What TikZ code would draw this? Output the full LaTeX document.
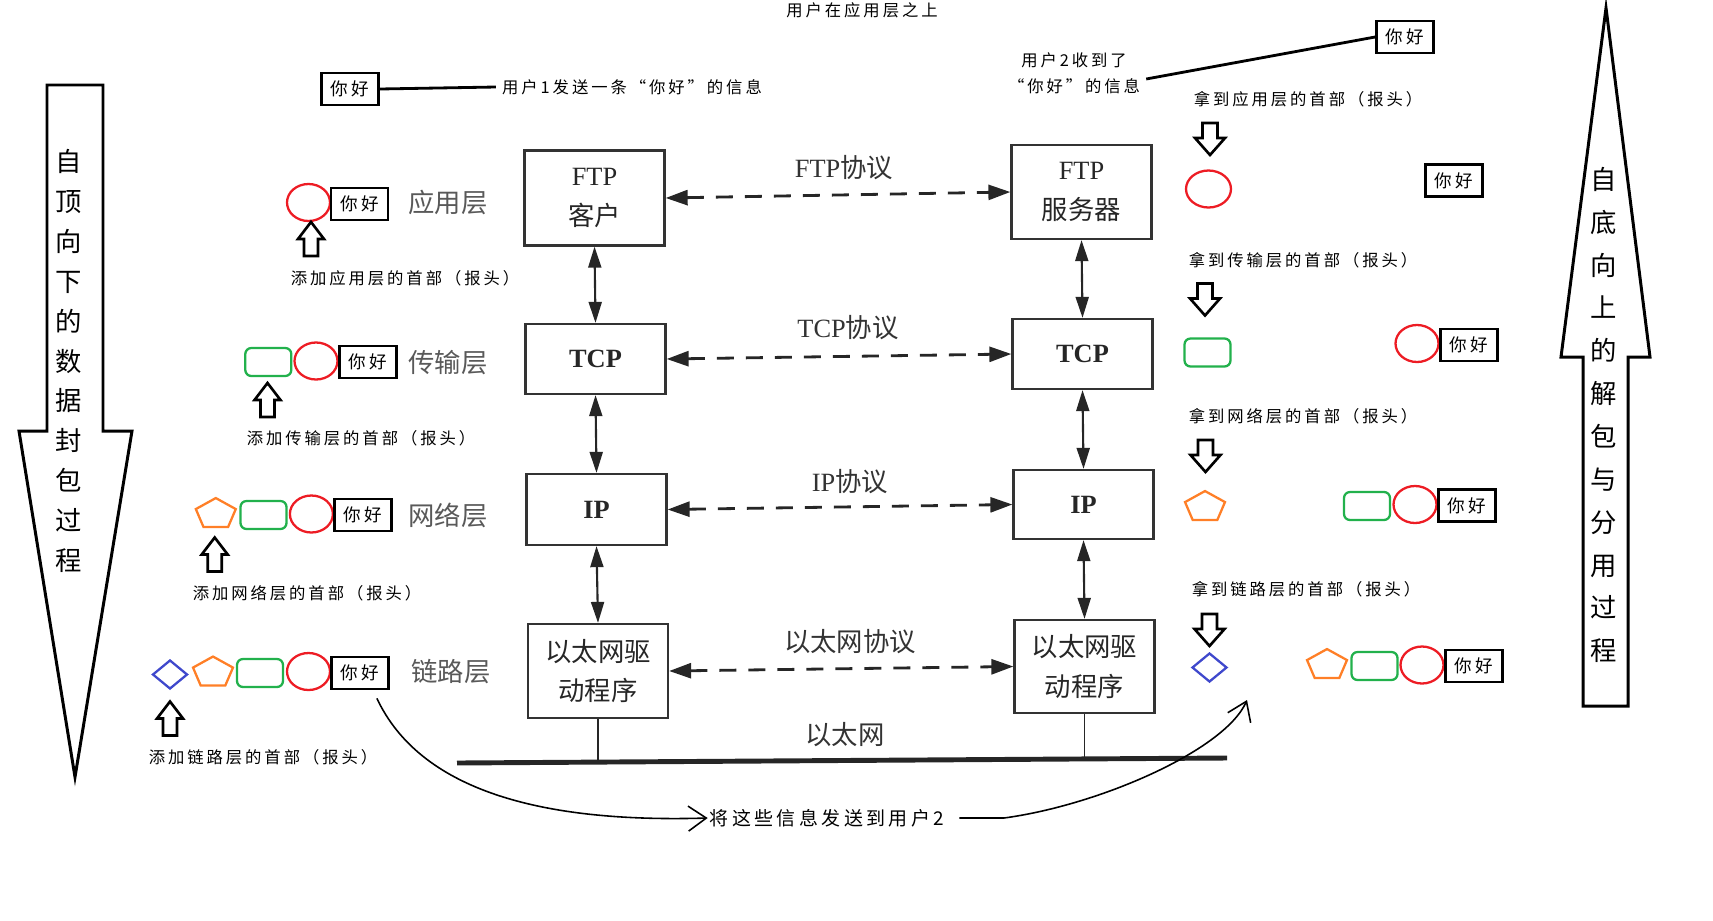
\documentclass[tikz,border=0pt]{standalone}
\usepackage{fontspec}
\setmainfont{Liberation Serif}
\newfontfamily\cjk{Noto Sans CJK SC}
\newfontfamily\cjkw{Noto Sans CJK SC}[LetterSpace=18]
\usetikzlibrary{arrows.meta, shapes.geometric}
\definecolor{hdrred}{RGB}{237,28,36}
\definecolor{hdrgreen}{RGB}{34,177,76}
\definecolor{hdrorange}{RGB}{255,127,39}
\definecolor{hdrblue}{RGB}{63,72,204}

\begin{document}
\begin{tikzpicture}[
  x=0.02cm, y=-0.02cm,
  proto/.style={draw=black!80, line width=1.3pt, minimum width=2.8cm, align=center,
                text=black!85, font=\fontsize{15}{22.7}\selectfont},
  peer/.style={{Triangle[length=0.44cm,width=0.3cm]}-{Triangle[length=0.44cm,width=0.3cm]},
               line width=1.6pt, dash pattern=on 0.34cm off 0.24cm, draw=black!85},
  vlink/.style={{Triangle[length=0.42cm,width=0.26cm]}-{Triangle[length=0.42cm,width=0.26cm]},
                line width=1.2pt, draw=black!85},
  protolbl/.style={font=\fontsize{15}{18}\selectfont, text=black!80},
  layerlbl/.style={font=\cjk\fontsize{15}{18}\selectfont, text=black!65},
  note/.style={font=\cjkw\fontsize{9.3}{12}\selectfont},
  msgbox/.style={draw, line width=1.6pt, minimum width=1.14cm, minimum height=0.64cm,
                 inner sep=0pt, font=\cjkw\fontsize{10}{12}\selectfont},
  hdrapp/.style={ellipse, draw=hdrred, line width=1.3pt, minimum width=0.86cm,
                 minimum height=0.74cm, inner sep=0pt},
  hdrtrans/.style={rectangle, rounded corners=0.12cm, draw=hdrgreen, line width=1.3pt,
                   minimum width=0.92cm, minimum height=0.56cm, inner sep=0pt},
  hdrnet/.style={regular polygon, regular polygon sides=5, draw=hdrorange, line width=1.3pt,
                 minimum size=0.84cm, inner sep=0pt, yscale=0.76, transform shape},
  hdrlink/.style={diamond, draw=hdrblue, line width=1.3pt, minimum width=0.7cm,
                  minimum height=0.58cm, inner sep=0pt},
  bigarrow/.style={draw, line width=1.7pt},
  bigtext/.style={font=\cjk\fontsize{15}{22.7}\selectfont, align=center},
  sendarrow/.style={-{Straight Barb[length=0.36cm,width=0.5cm]}, line width=0.9pt},
  thickline/.style={line width=1.6pt},
  addhdr/.pic={\draw[line width=1.5pt] (-7,17) -- (-7,0) -- (-13,0) -- (0,-17)
               -- (13,0) -- (7,0) -- (7,17) -- cycle;},
  takehdr/.pic={\draw[line width=1.5pt] (-7.5,-16) -- (-7.5,-1) -- (-15,-1) -- (0,16)
                -- (15,-1) -- (7.5,-1) -- (7.5,-16) -- cycle;}
]
  \useasboundingbox (0,0) rectangle (1713,920);

  % Big arrows at both sides
  \draw[bigarrow] (47,85) -- (103,85) -- (103,431) -- (132,431) -- (75,777)
    -- (19,431) -- (47,431) -- cycle;
  \node[bigtext] (lefttext) at (69,361) {自\\顶\\向\\下\\的\\数\\据\\封\\包\\过\\程};
  \draw[bigarrow] (1606,8) -- (1650,357) -- (1628,357) -- (1628,706) -- (1583,706)
    -- (1583,357) -- (1561,357) -- cycle;
  \node[bigtext, font=\cjk\fontsize{15}{24.4}\selectfont] (righttext) at (1604,415)
    {自\\底\\向\\上\\的\\解\\包\\与\\分\\用\\过\\程};

  % Protocol stack, client side
  \node[proto, minimum height=1.9cm] (ftpc) at (594.5,198) {FTP\\{\cjk 客户}};
  \node[proto, minimum height=1.4cm] (tcpc) at (595.5,359) {\bfseries TCP};
  \node[proto, minimum height=1.42cm] (ipc) at (596.5,509.5) {\bfseries IP};
  \node[proto, minimum height=1.88cm, font=\cjk\fontsize{15}{22.7}\selectfont] (ethc)
    at (598,671) {以太网驱\\动程序};

  % Protocol stack, server side
  \node[proto, minimum height=1.88cm] (ftps) at (1081.5,192) {FTP\\{\cjk 服务器}};
  \node[proto, minimum height=1.4cm] (tcps) at (1082.5,354) {\bfseries TCP};
  \node[proto, minimum height=1.38cm] (ips) at (1083.5,504.5) {\bfseries IP};
  \node[proto, minimum height=1.86cm, font=\cjk\fontsize{15}{22.7}\selectfont] (eths)
    at (1084.5,666.5) {以太网驱\\动程序};

  \draw[vlink] (ftpc.south) -- (tcpc.north);
  \draw[vlink] (tcpc.south) -- (ipc.north);
  \draw[vlink] (ipc.south) -- (ethc.north);
  \draw[vlink] (ftps.south) -- (tcps.north);
  \draw[vlink] (tcps.south) -- (ips.north);
  \draw[vlink] (ips.south) -- (eths.north);

  \draw[peer] (ftpc.east) -- (ftps.west);
  \draw[peer] (tcpc.east) -- (tcps.west);
  \draw[peer] (ipc.east) -- (ips.west);
  \draw[peer] (ethc.east) -- (eths.west);

  \node[protolbl] (ftpproto) at (844,168) {FTP{\cjk 协议}};
  \node[protolbl] (tcpproto) at (848,328) {TCP{\cjk 协议}};
  \node[protolbl] (ipproto) at (850,482) {IP{\cjk 协议}};
  \node[protolbl, font=\cjk\fontsize{15}{18}\selectfont] (ethproto) at (850,642) {以太网协议};

  % Ethernet bus
  \coordinate (busL) at (457,763);
  \coordinate (busR) at (1227,758);
  \draw[line width=2.8pt, black!85] (busL) -- (busR);
  \draw[line width=0.8pt, black!85] (ethc.south) -- (ethc.south |- busL);
  \draw[line width=0.8pt, black!85] (eths.south) -- (eths.south |- busR);
  \node[protolbl, font=\cjk\fontsize{15}{18}\selectfont] (ethlbl) at (845,735) {以太网};

  % Layer names
  \node[layerlbl] (applbl) at (448,202) {应用层};
  \node[layerlbl] (translbl) at (448,363) {传输层};
  \node[layerlbl] (netlbl) at (448,515) {网络层};
  \node[layerlbl] (linklbl) at (451,672) {链路层};

  % Sender: top
  \node[note] (title) at (862,10) {用户在应用层之上};
  \node[msgbox] (topmsg) at (350,89) {你好};
  \node[note] (sendnote) at (632,87) {用户1发送一条“你好”的信息};
  \draw[thickline] (topmsg.east) -- (sendnote.west);

  % Sender: encapsulation
  \node[hdrapp] (a1circ) at (308.5,202.5) {};
  \node[msgbox] (a1msg) at (359.5,204) {你好};
  \pic at (311,239) {addhdr};
  \node[note] (a1note) at (405,278) {添加应用层的首部（报头）};

  \node[hdrtrans] (t2rect) at (268.3,362) {};
  \node[hdrapp] (t2circ) at (316,361) {};
  \node[msgbox] (t2msg) at (368,362) {你好};
  \pic at (267.5,400) {addhdr};
  \node[note] (t2note) at (361,438) {添加传输层的首部（报头）};

  \node[hdrnet] (n3pent) at (215.8,514) {};
  \node[hdrtrans] (n3rect) at (263.5,515) {};
  \node[hdrapp] (n3circ) at (311.4,514) {};
  \node[msgbox] (n3msg) at (363,515) {你好};
  \pic at (214.7,554.5) {addhdr};
  \node[note] (n3note) at (307,593) {添加网络层的首部（报头）};

  \node[hdrlink] (k4dia) at (170,674.5) {};
  \node[hdrnet] (k4pent) at (213,672.5) {};
  \node[hdrtrans] (k4rect) at (260,673) {};
  \node[hdrapp] (k4circ) at (308.5,671.5) {};
  \node[msgbox] (k4msg) at (360,673) {你好};
  \pic at (170,718.5) {addhdr};
  \node[note] (k4note) at (263,757) {添加链路层的首部（报头）};

  % Receiver: top
  \node[note, align=center, font=\cjkw\fontsize{9.3}{14.7}\selectfont] (recvnote)
    at (1074,73) {用户2收到了\\“你好”的信息};
  \node[msgbox] (rtopmsg) at (1405,37) {你好};
  \draw[thickline] ([yshift=-0.12cm]recvnote.east) -- (rtopmsg.west);

  % Receiver: decapsulation
  \node[note] (r1note) at (1308,99) {拿到应用层的首部（报头）};
  \pic at (1210,139) {takehdr};
  \node[hdrapp, minimum width=0.9cm] (r1circ) at (1208.5,189) {};
  \node[msgbox] (r1msg) at (1454,180.5) {你好};

  \node[note] (r2note) at (1303,260) {拿到传输层的首部（报头）};
  \pic at (1205,299.5) {takehdr};
  \node[hdrtrans] (r2rect) at (1207.5,352.5) {};
  \node[hdrapp] (r2circ) at (1417,343.5) {};
  \node[msgbox] (r2msg) at (1469,345) {你好};

  \node[note] (r3note) at (1303,416) {拿到网络层的首部（报头）};
  \pic at (1205.5,456) {takehdr};
  \node[hdrnet] (r3pent) at (1205,507) {};
  \node[hdrtrans] (r3rect) at (1367,506) {};
  \node[hdrapp] (r3circ) at (1415,504.5) {};
  \node[msgbox] (r3msg) at (1467,505.5) {你好};

  \node[note] (r4note) at (1306,589) {拿到链路层的首部（报头）};
  \pic at (1209.5,630) {takehdr};
  \node[hdrlink] (r4dia) at (1209.5,667.5) {};
  \node[hdrnet] (r4pent) at (1327,665) {};
  \node[hdrtrans] (r4rect) at (1374.5,666) {};
  \node[hdrapp] (r4circ) at (1422,665) {};
  \node[msgbox] (r4msg) at (1474,666) {你好};

  % Sending to user 2
  \node[note, inner sep=1pt, font=\cjkw\fontsize{10.8}{13}\selectfont] (sendall)
    at (827,818) {将这些信息发送到用户2};
  \coordinate (recvpt) at (1247,700);
  \draw[sendarrow] ([xshift=-0.26cm,yshift=-0.16cm]k4msg.south east)
    .. controls (420,790) and (540,823) .. (sendall.west);
  \draw[sendarrow] ([xshift=0.26cm]sendall.east) -- (1004,818)
    .. controls (1100,805) and (1225,750) .. (recvpt);
\end{tikzpicture}
\end{document}
